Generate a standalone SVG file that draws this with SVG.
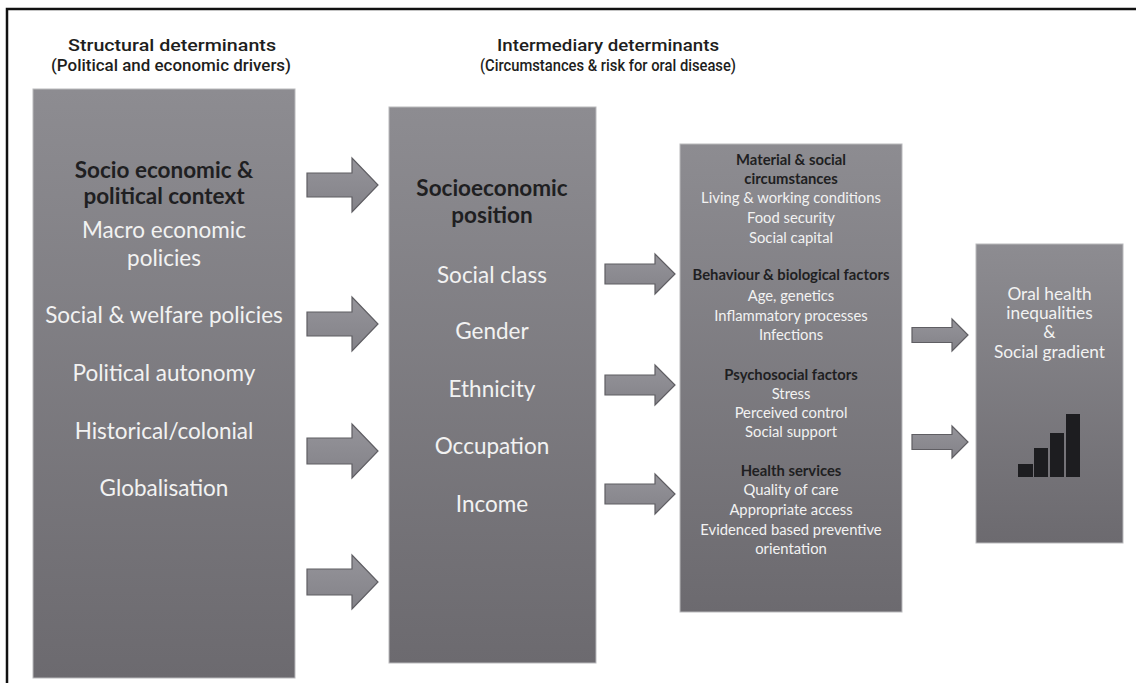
<svg xmlns="http://www.w3.org/2000/svg" width="1136" height="683" viewBox="0 0 1136 683">
  <defs>
    <linearGradient id="boxFill" x1="0" y1="0" x2="0" y2="1">
      <stop offset="0" stop-color="#8d8c91"/>
      <stop offset="1" stop-color="#6c6a6f"/>
    </linearGradient>
    <linearGradient id="arrowFill" x1="0" y1="0" x2="0" y2="1">
      <stop offset="0" stop-color="#95949a"/>
      <stop offset="1" stop-color="#838288"/>
    </linearGradient>
    <style>
      .frame { stroke: #111; stroke-width: 2.5; fill: none; }
      .box { fill: url(#boxFill); stroke: #b9b9bc; stroke-width: 1; }
      .arrow { fill: url(#arrowFill); stroke: #5f5e63; stroke-width: 1.2; stroke-linejoin: miter; }
      .title { font-family: "Roboto", "Liberation Sans", sans-serif; font-weight: 500; font-size: 16.5px; fill: #1e1e20; text-anchor: middle; }
      .t { font-family: "Lato", "Open Sans", sans-serif; text-anchor: middle; }
      .head { fill: #1f1f22; font-weight: 700; }
      .item { fill: #f2f2f2; }
      .big { font-size: 22.5px; }
      .small { font-size: 14.8px; }
      .mid { font-size: 17.3px; }
      .bar { fill: #1d1d20; }
    </style>
  </defs>

  <!-- page frame (top and left rules) -->
  <path class="frame" d="M7 683 V9 H1136"/>

  <!-- column headings -->
  <g id="headings">
    <text class="title" x="172" y="51" textLength="208" lengthAdjust="spacingAndGlyphs">Structural determinants</text>
    <text class="title" x="171" y="71" textLength="240" lengthAdjust="spacingAndGlyphs">(Political and economic drivers)</text>
    <text class="title" x="608" y="51" textLength="222" lengthAdjust="spacingAndGlyphs">Intermediary determinants</text>
    <text class="title" x="608" y="71" textLength="256" lengthAdjust="spacingAndGlyphs">(Circumstances &amp; risk for oral disease)</text>
  </g>

  <!-- structural determinants -->
  <g id="structural">
    <rect class="box" x="33" y="89" width="262" height="589"/>
    <text class="t big head" x="164" y="178">Socio economic &amp;</text>
    <text class="t big head" x="164" y="204">political context</text>
    <text class="t big item" x="164" y="238">Macro economic</text>
    <text class="t big item" x="164" y="266">policies</text>
    <text class="t big item" x="164" y="323">Social &amp; welfare policies</text>
    <text class="t big item" x="164" y="381">Political autonomy</text>
    <text class="t big item" x="164" y="439">Historical/colonial</text>
    <text class="t big item" x="164" y="496">Globalisation</text>
  </g>

  <!-- socioeconomic position -->
  <g id="position">
    <rect class="box" x="389" y="107" width="207" height="556"/>
    <text class="t big head" x="492" y="196">Socioeconomic</text>
    <text class="t big head" x="492" y="223">position</text>
    <text class="t big item" x="492" y="283">Social class</text>
    <text class="t big item" x="492" y="339">Gender</text>
    <text class="t big item" x="492" y="397">Ethnicity</text>
    <text class="t big item" x="492" y="454">Occupation</text>
    <text class="t big item" x="492" y="512">Income</text>
  </g>

  <!-- intermediary factors -->
  <g id="intermediary">
    <rect class="box" x="680" y="144" width="222" height="468"/>
    <text class="t small head" x="791" y="165">Material &amp; social</text>
    <text class="t small head" x="791" y="184">circumstances</text>
    <text class="t small item" x="791" y="203">Living &amp; working conditions</text>
    <text class="t small item" x="791" y="223">Food security</text>
    <text class="t small item" x="791" y="243">Social capital</text>
    <text class="t small head" x="791" y="280">Behaviour &amp; biological factors</text>
    <text class="t small item" x="791" y="301">Age, genetics</text>
    <text class="t small item" x="791" y="321">Inflammatory processes</text>
    <text class="t small item" x="791" y="340">Infections</text>
    <text class="t small head" x="791" y="380">Psychosocial factors</text>
    <text class="t small item" x="791" y="399">Stress</text>
    <text class="t small item" x="791" y="418">Perceived control</text>
    <text class="t small item" x="791" y="437">Social support</text>
    <text class="t small head" x="791" y="476">Health services</text>
    <text class="t small item" x="791" y="495">Quality of care</text>
    <text class="t small item" x="791" y="515">Appropriate access</text>
    <text class="t small item" x="791" y="535">Evidenced based preventive</text>
    <text class="t small item" x="791" y="554">orientation</text>
  </g>

  <!-- outcome -->
  <g id="outcome">
    <rect class="box" x="976" y="244" width="147" height="299"/>
    <text class="t mid item" x="1049.5" y="300">Oral health</text>
    <text class="t mid item" x="1049.5" y="319">inequalities</text>
    <text class="t mid item" x="1049.5" y="338">&amp;</text>
    <text class="t mid item" x="1049.5" y="358">Social gradient</text>
    <rect class="bar" x="1018" y="464" width="15" height="13"/>
    <rect class="bar" x="1034" y="448" width="14" height="29"/>
    <rect class="bar" x="1050" y="433" width="14" height="44"/>
    <rect class="bar" x="1066" y="414" width="14" height="63"/>
  </g>

  <!-- block arrows between columns -->
  <g id="connectors">
    <path class="arrow" d="M307 173 H352 V158 L378 185 L352 212 V197 H307 Z"/>
    <path class="arrow" d="M307 312 H352 V297 L378 324 L352 351 V336 H307 Z"/>
    <path class="arrow" d="M307 438 H352 V424 L378 451 L352 478 V464 H307 Z"/>
    <path class="arrow" d="M307 569 H352 V555 L378 582 L352 609 V595 H307 Z"/>

    <path class="arrow" d="M605 264 H655 V254 L675 274 L655 294 V284 H605 Z"/>
    <path class="arrow" d="M605 375 H655 V365 L675 385 L655 405 V395 H605 Z"/>
    <path class="arrow" d="M605 484 H655 V474 L675 494 L655 514 V504 H605 Z"/>

    <path class="arrow" d="M912 327.5 H952 V319 L968 335 L952 351 V342.5 H912 Z"/>
    <path class="arrow" d="M912 434.5 H952 V426 L968 442 L952 458 V449.5 H912 Z"/>
  </g>
</svg>
